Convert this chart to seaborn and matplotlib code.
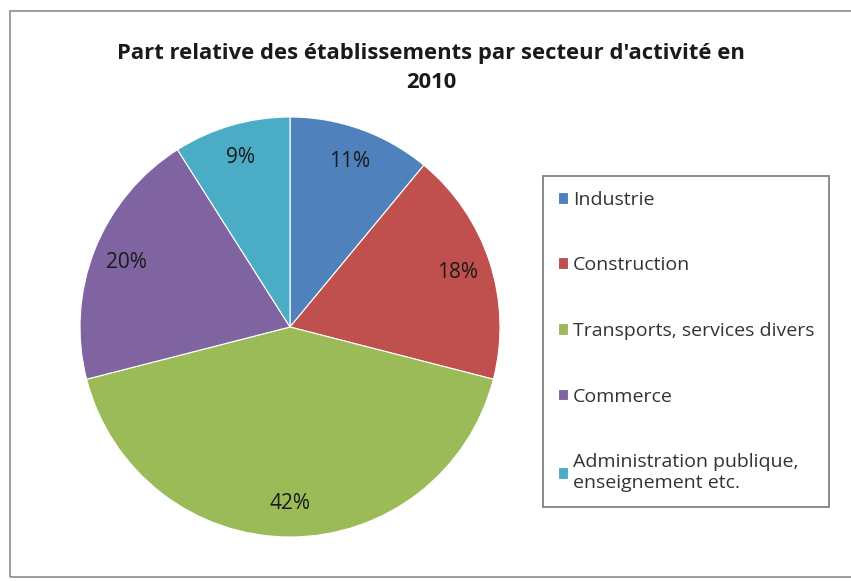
import matplotlib

matplotlib.use("Agg")

import matplotlib.pyplot as plt
import seaborn as sns
from matplotlib.patches import Rectangle

# Data
secteurs = [
    "Industrie",
    "Construction",
    "Transports, services divers",
    "Commerce",
    "Administration publique,\nenseignement etc.",
]
parts = [11, 18, 42, 20, 9]
couleurs = ["#4F81BD", "#C0504D", "#9BBB59", "#8064A2", "#4BACC6"]
titre = "Part relative des établissements par secteur d'activité en\n2010"

sns.set_theme(style="white")
plt.rcParams["font.family"] = ["Open Sans", "DejaVu Sans"]

W, H = 851, 581
fig = plt.figure(figsize=(W / 100, H / 100), dpi=100)
fig.patch.set_facecolor("white")

# chart area border
fig.patches.append(
    Rectangle((10 / W, 1 - 577 / H), 1.0, (577 - 11) / H, transform=fig.transFigure,
              fill=False, edgecolor="#8c8c8c", linewidth=1.2)
)

cx, cy, r = 290, 327, 210
ax = fig.add_axes([(cx - r) / W, 1 - (cy + r) / H, 2 * r / W, 2 * r / H])
wedges, texts, autotexts = ax.pie(
    parts,
    colors=couleurs,
    startangle=90,
    counterclock=False,
    autopct="%d%%",
    pctdistance=0.84,
    wedgeprops={"edgecolor": "white", "linewidth": 0.8},
    textprops={"fontsize": 15, "color": "#1a1a1a"},
)
ax.set_xlim(-1, 1)
ax.set_ylim(-1, 1)
ax.set_aspect("equal")
ax.axis("off")

fig.text(431 / W, 1 - 68 / H, titre, ha="center", va="center", fontsize=15.8,
         fontweight="bold", color="#1a1a1a", linespacing=1.5)

leg = fig.legend(
    wedges, secteurs,
    loc="upper left",
    bbox_to_anchor=(543 / W, 1 - 176 / H),
    fontsize=14,
    handlelength=0.55,
    handleheight=0.55,
    handletextpad=0.25,
    labelspacing=2.45,
    borderpad=0.75,
    borderaxespad=0,
    frameon=True,
    fancybox=False,
)
leg.get_frame().set_edgecolor("#555555")
leg.get_frame().set_linewidth(1.2)
for t in leg.get_texts():
    t.set_color("#333333")

fig.savefig("out.png", dpi=100)
